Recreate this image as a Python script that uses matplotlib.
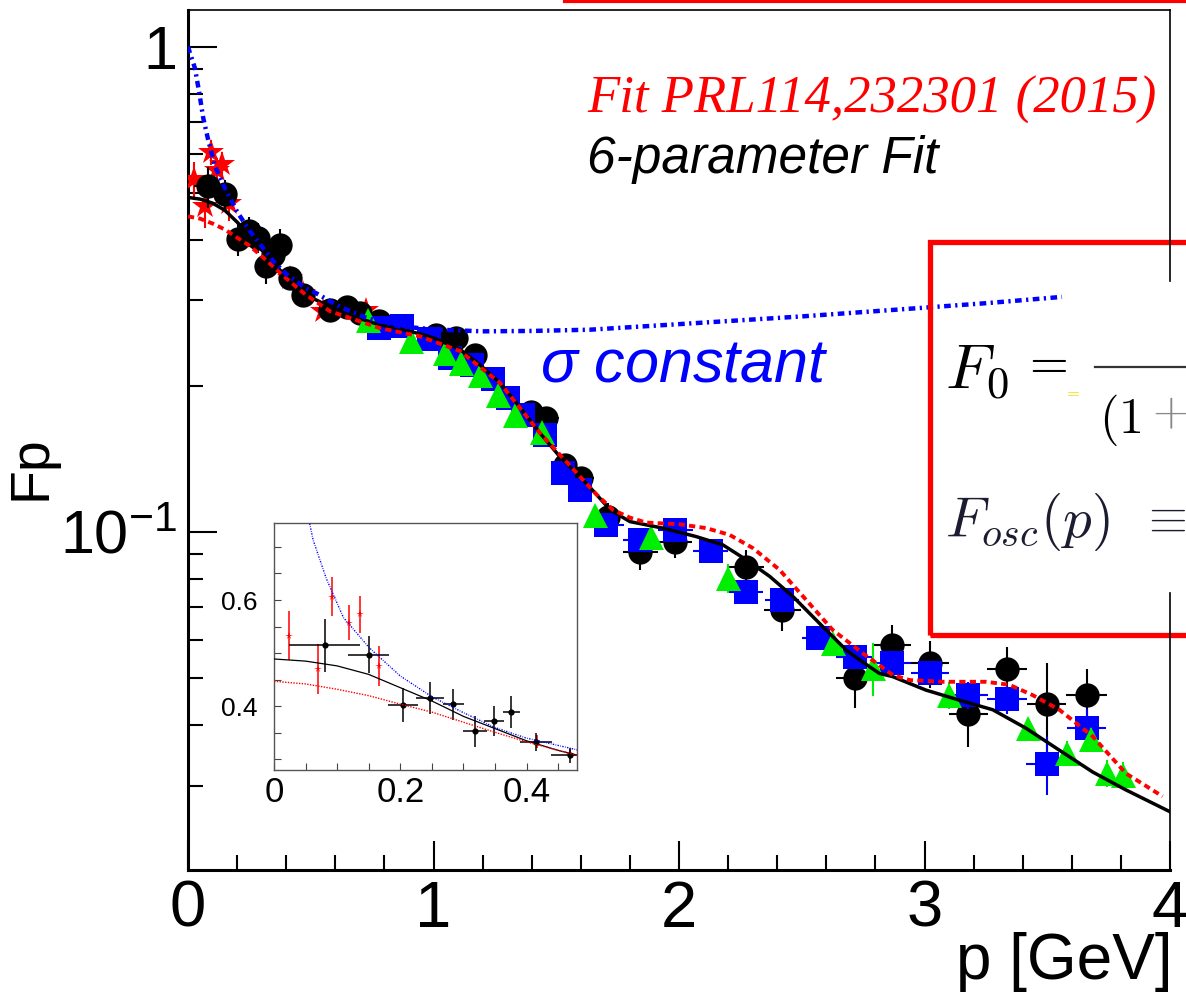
import matplotlib
matplotlib.use("Agg")
from matplotlib import pyplot as plt
from matplotlib import font_manager
from matplotlib.lines import Line2D
from matplotlib.patches import Rectangle
from matplotlib.ticker import FixedLocator, MultipleLocator, NullFormatter

installed = {f.name for f in font_manager.fontManager.ttflist}
SANS = 'Liberation Sans Narrow' if 'Liberation Sans Narrow' in installed else 'Liberation Sans'
plt.rcParams['font.family'] = [SANS, 'DejaVu Sans']
plt.rcParams['mathtext.fontset'] = 'custom'
plt.rcParams['mathtext.rm'] = SANS
plt.rcParams['mathtext.it'] = SANS + ':italic'
plt.rcParams['mathtext.sf'] = SANS

# --- data (p in GeV, Fp) ---
# black circles
blk_p = [0.080, 0.150, 0.204, 0.247, 0.284, 0.318, 0.348, 0.376, 0.415, 0.469,
         0.578, 0.646, 0.700, 0.780, 1.012, 1.093, 1.168, 1.399, 1.460, 1.534,
         1.602, 1.711, 1.842, 1.982, 2.274, 2.420, 2.716, 2.868, 3.023, 3.179,
         3.336, 3.498, 3.660]
blk_F = [0.515, 0.497, 0.402, 0.416, 0.404, 0.353, 0.372, 0.390, 0.333, 0.308,
         0.287, 0.291, 0.282, 0.272, 0.255, 0.251, 0.232, 0.177, 0.1715, 0.1375,
         0.129, 0.1075, 0.0911, 0.0955, 0.0846, 0.069, 0.0499, 0.0585, 0.0536, 0.0421,
         0.0522, 0.0442, 0.0461]
blk_dp = [0.057, 0.032, 0.024, 0.022, 0.017, 0.019, 0.016, 0.014, 0.026, 0.030,
          0.03, 0.03, 0.03, 0.03, 0.04, 0.04, 0.04, 0.05, 0.05, 0.05,
          0.05, 0.05, 0.072, 0.072, 0.072, 0.075, 0.075, 0.075, 0.077, 0.079,
          0.080, 0.080, 0.085]
blk_dF = [0.050, 0.035, 0.032, 0.030, 0.029, 0.029, 0.028, 0.030, 0.017, 0.014,
          0.012, 0.012, 0.012, 0.012, 0.010, 0.010, 0.010, 0.008, 0.008, 0.007,
          0.007, 0.007, 0.0075, 0.007, 0.007, 0.0065, 0.0065, 0.0058, 0.006, 0.006,
          0.0058, 0.0095, 0.006]

# blue squares
blu_p = [0.780, 0.870, 0.980, 1.066, 1.155, 1.243, 1.304, 1.365, 1.453, 1.527,
         1.595, 1.704, 1.840, 1.985, 2.129, 2.274, 2.419, 2.566, 2.715, 2.868,
         3.023, 3.179, 3.336, 3.498, 3.660]
blu_F = [0.263, 0.266, 0.250, 0.228, 0.221, 0.207, 0.189, 0.174, 0.1585, 0.132,
         0.122, 0.1034, 0.0963, 0.1009, 0.0914, 0.0753, 0.0724, 0.0604, 0.0553, 0.0536,
         0.0513, 0.0461, 0.0452, 0.0332, 0.0394]
blu_dp = [0.04, 0.04, 0.04, 0.04, 0.04, 0.04, 0.04, 0.04, 0.04, 0.04,
          0.04, 0.07, 0.07, 0.07, 0.07, 0.07, 0.07, 0.065, 0.075, 0.077,
          0.077, 0.079, 0.080, 0.083, 0.080]
blu_dF = [0.004, 0.004, 0.004, 0.004, 0.004, 0.004, 0.004, 0.004, 0.003, 0.003,
          0.003, 0.003, 0.003, 0.003, 0.003, 0.003, 0.003, 0.003, 0.003, 0.003,
          0.003, 0.003, 0.003, 0.0045, 0.0038]

# green triangles
grn_p = [0.734, 0.910, 1.046, 1.114, 1.189, 1.263, 1.331, 1.440, 1.656, 1.887,
         2.199, 2.626, 2.789, 3.099, 3.420, 3.579, 3.678, 3.742, 3.810]
grn_F = [0.2735, 0.247, 0.2335, 0.2228, 0.211, 0.1916, 0.1742, 0.161, 0.1084, 0.0978,
         0.0802, 0.059, 0.0524, 0.0461, 0.0394, 0.0351, 0.0375, 0.0318, 0.0315]
grn_dF = [0.003, 0.003, 0.003, 0.003, 0.003, 0.003, 0.003, 0.003, 0.003, 0.003,
          0.0055, 0.003, 0.0065, 0.003, 0.002, 0.002, 0.002, 0.002, 0.002]

# red stars
star_p = [0.024, 0.069, 0.092, 0.119, 0.137, 0.167, 0.416, 0.469, 0.550, 0.727]
star_F = [0.533, 0.470, 0.606, 0.557, 0.573, 0.476, 0.333, 0.310, 0.285, 0.287]
star_dF = [0.046, 0.047, 0.037, 0.033, 0.035, 0.038, 0.012, 0.010, 0.008, 0.008]

# 6-parameter fit (black solid)
fit6_p = [0, 0.05, 0.1, 0.15, 0.2, 0.25, 0.3, 0.35, 0.4, 0.45, 0.48, 0.578, 0.673,
          0.781, 0.863, 0.944, 1.0, 1.107, 1.189, 1.27, 1.351, 1.433, 1.514, 1.609,
          1.66, 1.72, 1.8, 1.934, 2.07, 2.179, 2.274, 2.369, 2.464, 2.572, 2.681,
          2.735, 2.816, 2.871, 3.006, 3.142, 3.278, 3.413, 3.549, 3.685, 3.82, 4.0]
fit6_F = [0.489, 0.485, 0.476, 0.460, 0.435, 0.410, 0.381, 0.358, 0.335, 0.317, 0.308,
          0.291, 0.278, 0.267, 0.262, 0.256, 0.251, 0.238, 0.221, 0.203, 0.181, 0.160,
          0.143, 0.128, 0.120, 0.111, 0.105, 0.1018, 0.0978, 0.094, 0.0876, 0.081,
          0.0736, 0.0648, 0.0571, 0.0545, 0.0511, 0.0503, 0.0472, 0.045, 0.043,
          0.0394, 0.0355, 0.032, 0.0294, 0.0265]

# Fit PRL114,232301 (red dashed)
prl_p = [0, 0.05, 0.1, 0.15, 0.2, 0.25, 0.3, 0.35, 0.4, 0.45, 0.48, 0.578, 0.781,
         0.944, 1.107, 1.27, 1.433, 1.609, 1.66, 1.731, 1.8, 1.867, 2.002, 2.111,
         2.206, 2.301, 2.41, 2.518, 2.626, 2.749, 2.871, 2.939, 3.074, 3.25, 3.346,
         3.44, 3.549, 3.685, 3.82, 3.97]
prl_F = [0.447, 0.442, 0.432, 0.420, 0.404, 0.389, 0.370, 0.351, 0.333, 0.317, 0.308,
         0.285, 0.263, 0.253, 0.236, 0.203, 0.160, 0.128, 0.120, 0.111, 0.107, 0.1045,
         0.1037, 0.1018, 0.0986, 0.0926, 0.0835, 0.0724, 0.0628, 0.0562, 0.0507,
         0.0495, 0.0491, 0.0491, 0.0484, 0.0461, 0.043, 0.0379, 0.0318, 0.0285]

# sigma constant (blue dash-dot)
sig_p = [0, 0.008, 0.028, 0.046, 0.062, 0.083, 0.11, 0.151, 0.2, 0.25, 0.3, 0.35,
         0.4, 0.48, 0.524, 0.619, 0.727, 0.863, 1.026, 1.2, 1.4, 1.636, 2.0, 2.5,
         2.925, 3.25, 3.56]
sig_F = [1.0, 0.97, 0.904, 0.803, 0.713, 0.64, 0.567, 0.51, 0.457, 0.418, 0.388,
         0.36, 0.34, 0.318, 0.31, 0.291, 0.276, 0.265, 0.261, 0.259, 0.2595, 0.261,
         0.268, 0.278, 0.288, 0.296, 0.305]

W, H = 1186, 998


def fx(px):
    return px / W


def fy(py):
    return 1 - py / H


fig = plt.figure(figsize=(W / 100, H / 100), dpi=100)
ax = fig.add_axes([fx(188), fy(870), (1170 - 188) / W, (870 - 10) / H])

ax.errorbar(star_p, star_F, yerr=star_dF, fmt='*', ms=19, color='#ff0000',
            mew=0, elinewidth=1.5, capsize=3, zorder=3)
ax.errorbar(blk_p, blk_F, xerr=blk_dp, yerr=blk_dF, fmt='o', ms=17.5, color='k',
            mew=0, elinewidth=1.5, capsize=3, zorder=4)
ax.errorbar(blu_p, blu_F, xerr=blu_dp, yerr=blu_dF, fmt='s', ms=17, color='#0000ff',
            mew=0, elinewidth=1.5, capsize=3, zorder=5)
ax.errorbar(grn_p, grn_F, yerr=grn_dF, fmt='^', ms=18, color='#00ee00',
            mew=0, elinewidth=1.5, capsize=3, zorder=6)

ax.plot(fit6_p, fit6_F, color='k', lw=2.5, zorder=7)
ax.plot(prl_p, prl_F, color='#ff0000', lw=2.8, ls=(0, (1.6, 1.1)), zorder=7)
ax.plot(sig_p, sig_F, color='#0000ff', lw=3.2, ls=(0, (1.5, 1.0, 0.5, 1.0)), zorder=7)

ax.set_xlim(0, 4)
ax.set_yscale('log')
ax.set_ylim(0.0201, 1.19)
ax.set_yticks([0.1, 1])
ax.set_yticklabels([r'$10^{-1}$', '1'])
ax.yaxis.set_minor_formatter(NullFormatter())
ax.xaxis.set_major_locator(FixedLocator([0, 1, 2, 3, 4]))
ax.xaxis.set_minor_locator(MultipleLocator(0.2))
ax.tick_params(which='both', direction='in', top=False, right=False, width=1.5)
ax.tick_params(which='major', length=21, labelsize=44)
ax.tick_params(axis='x', which='major', pad=7, labelsize=47)
ax.tick_params(axis='y', which='major', pad=8)
ax.tick_params(which='minor', length=10.5)
ax.spines['left'].set_linewidth(2.2)
ax.spines['bottom'].set_linewidth(2.2)
ax.spines['top'].set_linewidth(1.2)
ax.spines['right'].set_visible(False)

# right frame, hidden behind the formula image
fig.add_artist(Line2D([fx(1170), fx(1170)], [fy(10), fy(281)], color='k', lw=1.2))
fig.add_artist(Line2D([fx(1170), fx(1170)], [fy(593), fy(870)], color='k', lw=1.2))

fig.text(fx(31), fy(468), 'Fp', rotation=90, ha='center', va='center', fontsize=40)
fig.text(fx(1172), fy(962), 'p [GeV]', ha='right', va='center', fontsize=46)

fig.text(fx(587), fy(100), 'Fit PRL114,232301 (2015)', color='#ff0000', fontsize=38,
         family='Liberation Serif', style='italic', va='center')
fig.text(fx(587), fy(160), '6-parameter Fit', color='k', fontsize=37,
         style='italic', va='center')
fig.text(fx(540), fy(366), r'$\sigma$ constant', color='#0000ff', fontsize=44,
         style='italic', va='center')

# red boxes from the slide
fig.add_artist(Line2D([fx(565), fx(1186)], [fy(1), fy(1)], color='#ff0000', lw=3))
fig.add_artist(Rectangle((fx(930), fy(635)), fx(300), (635 - 242) / H,
                         facecolor='none', edgecolor='#ff0000', lw=3.8))
fig.text(fx(945), fy(372), r'$F_0$', fontsize=46, math_fontfamily='cm', va='center')
fig.text(fx(1021), fy(364), r'$=$', fontsize=36, math_fontfamily='cm', va='center')
fig.text(fx(1064), fy(392), r'$=$', fontsize=12, color='#f0e000',
         math_fontfamily='cm', va='center')
fig.add_artist(Line2D([fx(1095), fx(1186)], [fy(367), fy(367)], color='#333333', lw=1.6))
fig.text(fx(1099), fy(420), r'$(1$', fontsize=36, math_fontfamily='cm', va='center')
fig.text(fx(1152), fy(413), r'$+$', fontsize=34, color='#888888',
         math_fontfamily='cm', va='center', clip_on=True)
fig.text(fx(945), fy(522), r'$F_{osc}(p)$', fontsize=41, color='#1c1c30',
         math_fontfamily='cm', va='center')
fig.text(fx(1140), fy(519), r'$\equiv$', fontsize=36, color='#1c1c30',
         math_fontfamily='cm', va='center')

# inset zoom on low p
iax = fig.add_axes([fx(274), fy(770), (577 - 274) / W, (770 - 523) / H])
iax.errorbar(star_p, star_F, yerr=star_dF, fmt='*', ms=5.5, color='#ff0000',
             mew=0, elinewidth=1.1, capsize=1.5, zorder=3)
iax.errorbar(blk_p, blk_F, xerr=blk_dp, yerr=blk_dF, fmt='o', ms=4.5, color='k',
             mew=0, elinewidth=1.1, capsize=0, zorder=4)
iax.plot(fit6_p, fit6_F, color='k', lw=0.9, zorder=5)
iax.plot(prl_p, prl_F, color='#ff0000', lw=1.0, ls=(0, (1, 1)), zorder=5)
iax.plot(sig_p, sig_F, color='#0000ff', lw=1.0, ls=(0, (1, 1, 0.5, 1)), zorder=5)
iax.set_xlim(0, 0.48)
iax.set_ylim(0.28, 0.745)
iax.set_xticks([0, 0.2, 0.4])
iax.set_xticklabels(['0', '0.2', '0.4'])
iax.set_yticks([0.4, 0.6])
iax.set_yticklabels(['0.4', '0.6'])
iax.xaxis.set_minor_locator(MultipleLocator(0.05))
iax.yaxis.set_minor_locator(MultipleLocator(0.05))
iax.tick_params(which='both', direction='in', length=5, width=0.8, color='#444444',
                top=False, right=False)
iax.tick_params(axis='x', labelsize=25, pad=4)
iax.tick_params(axis='y', labelsize=19, pad=12)
for s in iax.spines.values():
    s.set_linewidth(1.0)
    s.set_color('#555555')

fig.savefig('out.png', dpi=100)
